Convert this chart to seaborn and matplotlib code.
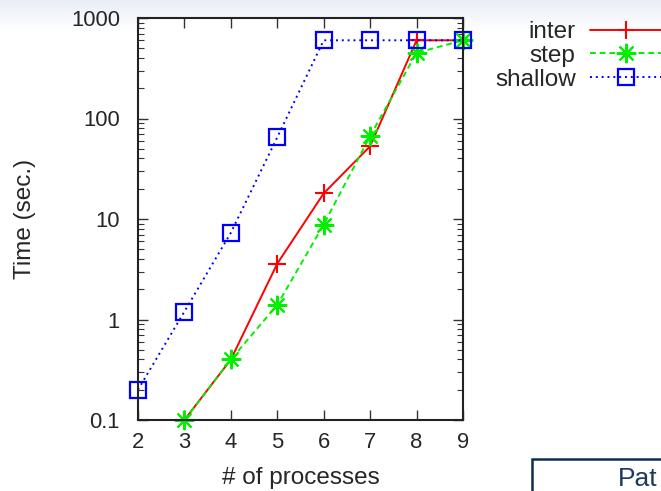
import numpy as np
import pandas as pd
import matplotlib
matplotlib.use("Agg")
import matplotlib.pyplot as plt
import matplotlib.ticker as mticker
from matplotlib.patches import Rectangle
import seaborn as sns

# Run time of each strategy against the number of processes
procs = [2, 3, 4, 5, 6, 7, 8, 9]
inter = [np.nan, 0.1, 0.4, 3.6, 18, 53, 600, 600]
step = [np.nan, 0.1, 0.4, 1.4, 8.8, 67, 450, 600]
shallow = [0.2, 1.2, 7.3, 65, 600, 600, 600, 600]

y_ticks = [0.1, 1, 10, 100, 1000]
y_tick_labels = ["0.1", "1", "10", "100", "1000"]

sns.set_theme(style="ticks")
plt.rcParams["font.family"] = ["Liberation Sans", "DejaVu Sans"]
plt.rcParams["xtick.direction"] = "in"
plt.rcParams["ytick.direction"] = "in"

W, H = 661, 491
fig = plt.figure(figsize=(W / 100, H / 100), dpi=100)
fig.patch.set_facecolor("white")

# soft header band of the slide
band = fig.add_axes([0, 1 - 32 / H, 1, 32 / H], zorder=-5)
grad = np.linspace(0, 1, 64).reshape(-1, 1)
band.imshow(grad, aspect="auto", cmap=matplotlib.colors.LinearSegmentedColormap.from_list(
    "hdr", ["#e9eef6", "#ffffff"]), extent=[0, 1, 0, 1], origin="upper")
band.axis("off")

ax = fig.add_axes([138 / W, 1 - 420 / H, (463 - 138) / W, (420 - 18) / H])

df = pd.DataFrame({"procs": procs, "inter": inter, "step": step, "shallow": shallow})

RED, GREEN, BLUE = "#ff0000", "#00f000", "#0000ff"
sns.lineplot(data=df, x="procs", y="inter", ax=ax, color=RED, lw=1.4,
             linestyle="-", marker="+", markersize=13, markeredgewidth=1.5,
             markeredgecolor=RED, label="inter", clip_on=False)
sns.lineplot(data=df, x="procs", y="step", ax=ax, color=GREEN, lw=1.4,
             linestyle=(0, (3, 2)), marker=(8, 2, 0), markersize=14,
             markeredgewidth=1.5, markeredgecolor=GREEN, label="step",
             clip_on=False)
sns.lineplot(data=df, x="procs", y="shallow", ax=ax, color=BLUE, lw=1.4,
             linestyle=(0, (1, 2)), marker="s", markersize=12,
             markerfacecolor="none", markeredgecolor=BLUE,
             markeredgewidth=1.6, label="shallow", clip_on=False)

ax.set_yscale("log")
ax.set_xlim(2, 9)
ax.set_ylim(0.1, 1000)
ax.set_xticks(procs)
ax.set_yticks(y_ticks)
ax.set_yticklabels(y_tick_labels)
ax.yaxis.set_minor_locator(mticker.LogLocator(base=10, subs=np.arange(2, 10)))
ax.yaxis.set_minor_formatter(mticker.NullFormatter())

ax.tick_params(axis="both", which="major", labelsize=15.8, length=7, width=1.0,
               top=True, right=True, color="#333333")
ax.tick_params(axis="x", which="major", pad=9)
ax.tick_params(axis="y", which="major", pad=13)
ax.tick_params(axis="y", which="minor", length=4, width=0.8, right=True,
               color="#333333")
for s in ax.spines.values():
    s.set_linewidth(1.5)
    s.set_color("#222222")

ax.set_xlabel("# of processes", fontsize=17.5)
ax.set_ylabel("Time (sec.)", fontsize=17.5)
ax.xaxis.set_label_coords(0.5, -(478 - 420) / (420 - 18), transform=ax.transAxes)
ax.yaxis.set_label_coords(-(138 - 25) / (463 - 138), 0.5, transform=ax.transAxes)
ax.xaxis.label.set_va("center")
ax.yaxis.label.set_va("center")

leg = ax.legend(loc="upper left", bbox_to_anchor=(495 / W, 1 - 21 / H),
                bbox_transform=fig.transFigure, frameon=False, fontsize=17.5,
                markerfirst=False, handlelength=2.9, handletextpad=0.6,
                labelspacing=0.08, borderaxespad=0, borderpad=0)
for t in leg.get_texts():
    t.set_ha("right")

# slide block peeking in from the lower right corner
fig.patches.append(Rectangle((532 / W, -0.2), 0.4, 0.2 + (491 - 459) / H,
                             transform=fig.transFigure, facecolor="white",
                             edgecolor="#0e2d52", lw=1.8, zorder=2))
fig.text(618 / W, 1 - 486 / H, "Pat", fontsize=19, color="#1a3a60",
         ha="left", va="baseline", zorder=3)

fig.savefig("out.png", dpi=100)
